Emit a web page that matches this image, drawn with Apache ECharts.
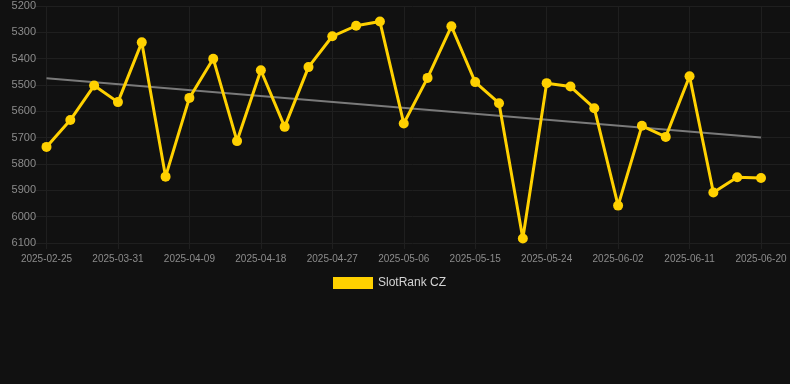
<!DOCTYPE html>
<html>
<head>
<meta charset="utf-8">
<script src="https://cdn.jsdelivr.net/npm/echarts@6/dist/echarts.min.js"></script>
<style>
html,body{margin:0;padding:0;background:#111111;}
#chart{width:790px;height:384px;}
</style>
</head>
<body>
<div id="chart"></div>
<script>
const categories = [
  '2025-02-25','2025-03-25','2025-03-28','2025-03-31','2025-04-03','2025-04-06',
  '2025-04-09','2025-04-12','2025-04-15','2025-04-18','2025-04-21','2025-04-24',
  '2025-04-27','2025-04-30','2025-05-03','2025-05-06','2025-05-09','2025-05-12',
  '2025-05-15','2025-05-18','2025-05-21','2025-05-24','2025-05-27','2025-05-30',
  '2025-06-02','2025-06-05','2025-06-08','2025-06-11','2025-06-14','2025-06-17',
  '2025-06-20'
];
const rankValues = [
  5735, 5633, 5502, 5565, 5338, 5848,
  5549, 5400, 5713, 5444, 5659, 5432,
  5315, 5275, 5259, 5646, 5473, 5277,
  5489, 5569, 6083, 5493, 5506, 5588,
  5958, 5655, 5697, 5467, 5908, 5850,
  5853
];
const trendStart = 5474;
const trendEnd = 5699;
const yTicks = [5200, 6100, 100]; // min, max, step

const seriesName = 'SlotRank CZ';
const labelColor = '#8c8c8c';
const gridColor = '#1f1f1f';
const yellow = '#FFD100';

const chart = echarts.init(document.getElementById('chart'));
chart.setOption({
  backgroundColor: '#111111',
  animation: false,
  textStyle: { fontFamily: 'Liberation Sans, Arial, sans-serif' },
  legend: {
    data: [{ name: seriesName, icon: 'rect' }],
    top: 277,
    left: 333,
    padding: 0,
    itemWidth: 40,
    itemHeight: 12,
    itemGap: 10,
    textStyle: { color: '#d4d4d4', fontSize: 12, fontFamily: 'Liberation Sans, Arial, sans-serif' }
  },
  grid: [
    { left: 46.5, right: 29, top: 6, bottom: 141 },
    { left: 35, right: 0, top: 6, bottom: 141 }
  ],
  xAxis: [
    {
      type: 'category', gridIndex: 0, data: categories, boundaryGap: false,
      axisLine: { show: false },
      axisTick: { show: true, interval: 2, length: 6, lineStyle: { color: gridColor } },
      axisLabel: { interval: 2, color: labelColor, fontSize: 10, margin: 11 },
      splitLine: { show: true, interval: 2, lineStyle: { color: gridColor, width: 1 } }
    },
    {
      type: 'value', gridIndex: 1, min: 0, max: 1, show: false
    }
  ],
  yAxis: [
    {
      type: 'value', gridIndex: 0, inverse: true,
      min: yTicks[0], max: yTicks[1], interval: yTicks[2],
      axisLine: { show: false }, axisTick: { show: false },
      axisLabel: { color: labelColor, fontSize: 11, margin: 10.5, formatter: v => String(v) },
      splitLine: { show: false }
    },
    {
      type: 'value', gridIndex: 1, inverse: true,
      min: yTicks[0], max: yTicks[1], interval: yTicks[2],
      axisLine: { show: false }, axisTick: { show: false },
      axisLabel: { show: false },
      splitLine: { show: true, lineStyle: { color: gridColor, width: 1 } }
    }
  ],
  series: [
    {
      name: 'trend', type: 'line', xAxisIndex: 0, yAxisIndex: 0,
      data: [[0, trendStart], [categories.length - 1, trendEnd]],
      symbol: 'none', silent: true,
      lineStyle: { color: '#7a7a7a', width: 2 },
      z: 2
    },
    {
      name: seriesName, type: 'line', xAxisIndex: 0, yAxisIndex: 0,
      data: rankValues,
      symbol: 'circle', symbolSize: 10, showAllSymbol: true,
      lineStyle: { color: yellow, width: 3 },
      itemStyle: { color: yellow },
      z: 3
    }
  ]
});
</script>
</body>
</html>
